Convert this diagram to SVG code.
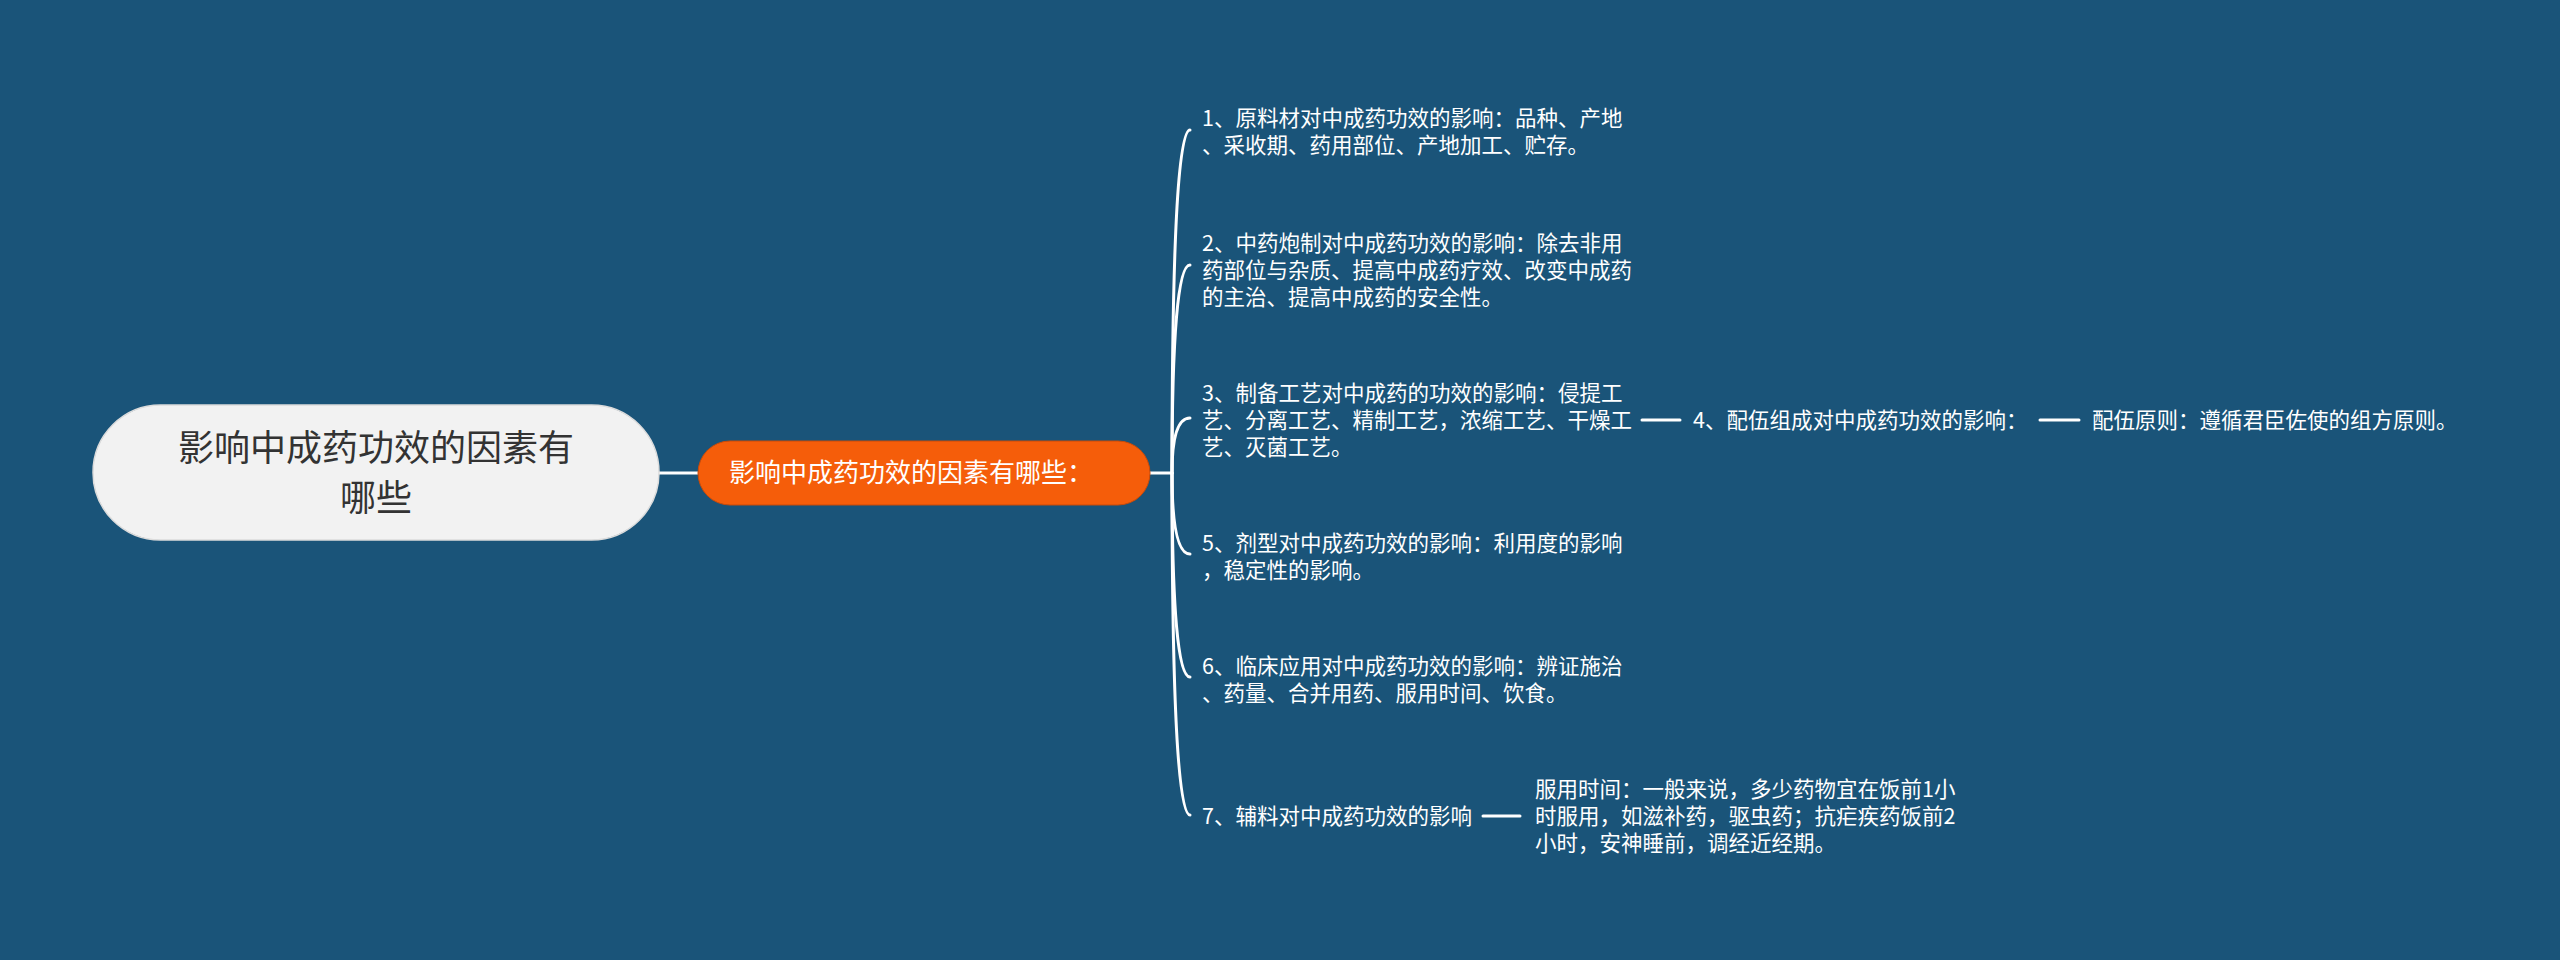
<svg xmlns="http://www.w3.org/2000/svg" width="2560" height="960" viewBox="0 0 2560 960">
<style>
.t{font-family:"Microsoft YaHei","Noto Sans CJK SC","Noto Sans",sans-serif;fill:#ffffff;font-size:21.5px}
.root{font-family:"Microsoft YaHei","Noto Sans CJK SC","Noto Sans",sans-serif;fill:#333333;font-size:36px}
.main{font-family:"Microsoft YaHei","Noto Sans CJK SC","Noto Sans",sans-serif;fill:#ffffff;font-size:26px}
.c{fill:none;stroke:#ffffff;stroke-width:3;stroke-linecap:round}
</style>
<rect x="0" y="0" width="2560" height="960" fill="#1a5479"/>
<g id="connectors">
<path class="c" d="M659,473 H698"/>
<path class="c" d="M1150,473 H1172"/>
<path class="c" d="M1172,473 Q1172,130 1190,130"/>
<path class="c" d="M1172,473 Q1172,265 1190,265"/>
<path class="c" d="M1172,473 Q1172,418 1190,418"/>
<path class="c" d="M1172,473 Q1172,554 1190,554"/>
<path class="c" d="M1172,473 Q1172,677 1190,677"/>
<path class="c" d="M1172,473 Q1172,815 1190,815"/>
<path class="c" d="M1642,420 H1680"/>
<path class="c" d="M2040,420 H2079"/>
<path class="c" d="M1483,816 H1520"/>
</g>
<g id="root">
<rect x="93" y="405" width="566" height="135" rx="67.5" fill="#f2f2f2" stroke="#dcdcdc" stroke-width="1.5"/>
<text class="root" x="376" y="461" text-anchor="middle">影响中成药功效的因素有</text>
<text class="root" x="376" y="511" text-anchor="middle">哪些</text>
</g>
<g id="main">
<rect x="698" y="441" width="452" height="64" rx="32" fill="#f55d0a" stroke="#c94a08" stroke-width="1"/>
<text class="main" x="729" y="482">影响中成药功效的因素有哪些：</text>
</g>
<g id="item1">
<text class="t" x="1202" y="126">1、原料材对中成药功效的影响：品种、产地</text>
<text class="t" x="1202" y="153">、采收期、药用部位、产地加工、贮存。</text>
</g>
<g id="item2">
<text class="t" x="1202" y="250.5">2、中药炮制对中成药功效的影响：除去非用</text>
<text class="t" x="1202" y="277.5">药部位与杂质、提高中成药疗效、改变中成药</text>
<text class="t" x="1202" y="304.5">的主治、提高中成药的安全性。</text>
</g>
<g id="item3">
<text class="t" x="1202" y="400.5">3、制备工艺对中成药的功效的影响：侵提工</text>
<text class="t" x="1202" y="427.5">艺、分离工艺、精制工艺，浓缩工艺、干燥工</text>
<text class="t" x="1202" y="454.5">艺、灭菌工艺。</text>
</g>
<g id="item4">
<text class="t" x="1693" y="427.5">4、配伍组成对中成药功效的影响：</text>
</g>
<g id="item4-detail">
<text class="t" x="2092" y="427.5">配伍原则：遵循君臣佐使的组方原则。</text>
</g>
<g id="item5">
<text class="t" x="1202" y="550.5">5、剂型对中成药功效的影响：利用度的影响</text>
<text class="t" x="1202" y="577.5">，稳定性的影响。</text>
</g>
<g id="item6">
<text class="t" x="1202" y="673.5">6、临床应用对中成药功效的影响：辨证施治</text>
<text class="t" x="1202" y="700.5">、药量、合并用药、服用时间、饮食。</text>
</g>
<g id="item7">
<text class="t" x="1202" y="823.5">7、辅料对中成药功效的影响</text>
</g>
<g id="item7-detail">
<text class="t" x="1535" y="796.5">服用时间：一般来说，多少药物宜在饭前1小</text>
<text class="t" x="1535" y="823.5">时服用，如滋补药，驱虫药；抗疟疾药饭前2</text>
<text class="t" x="1535" y="850.5">小时，安神睡前，调经近经期。</text>
</g>
</svg>
